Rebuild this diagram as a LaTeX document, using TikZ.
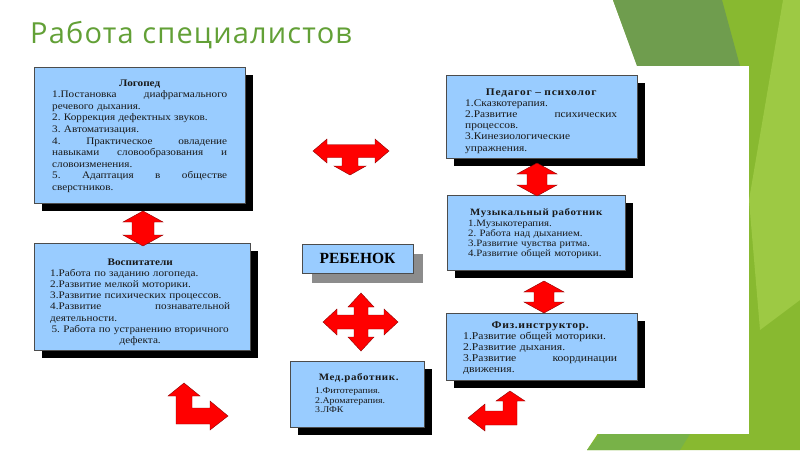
\documentclass[tikz,border=0pt]{standalone}
\usepackage{fontspec}
\setmainfont{Liberation Serif}
\newfontfamily\boxfont[FakeStretch=1.12]{Liberation Serif}
\newfontfamily\titlefont{Open Sans}
\usetikzlibrary{shadows}
\newcommand{\jline}[1]{\makebox[\linewidth][s]{\spaceskip=0pt\xspaceskip=0pt\relax #1}\par}
\definecolor{boxblue}{RGB}{153,204,255}
\definecolor{ttlgreen}{RGB}{98,160,54}
\definecolor{gdark}{RGB}{111,157,78}
\definecolor{gmid}{RGB}{136,185,48}
\definecolor{glight}{RGB}{157,201,68}
\definecolor{gbot}{RGB}{120,178,72}
\definecolor{arrowred}{RGB}{255,0,0}
\begin{document}
\begin{tikzpicture}[x=1pt,y=-1pt,
  box/.style={draw=black!70, line width=0.5pt, fill=boxblue, inner sep=0pt,
    drop shadow={shadow xshift=8pt, shadow yshift=-8pt, fill=black, opacity=1}},
  kidbox/.style={draw=black!70, line width=0.5pt, fill=boxblue, inner sep=0pt,
    drop shadow={shadow xshift=10pt, shadow yshift=-10pt, fill=black!45, opacity=1}},
  txt/.style={inner sep=0pt, anchor=base west, text=black!90, align=left},
  redarr/.style={fill=arrowred, draw=red!55!black, line width=0.4pt, line join=miter}]
\useasboundingbox (0,0) rectangle (800,450);
% background
\fill[white] (0,0) rectangle (800,450);
\fill[gmid] (613,0) -- (800,0) -- (800,450) -- (587,450) -- (620,400) -- (650,100) -- cycle;
\fill[gdark] (613,0) -- (722,0) -- (740,66) -- (637,66) -- cycle;
\fill[glight] (783,0) -- (800,0) -- (800,300) -- (760,330) -- (749,200) -- cycle;
\fill[gbot] (587,450) -- (600,434) -- (690,434) -- (680,450) -- cycle;
\fill[white] (0,66) rectangle (749,434);
% title
\node[anchor=base west, inner sep=0pt, text=ttlgreen, font=\titlefont\addfontfeatures{LetterSpace=4}\fontsize{29}{34}\selectfont] (title) at (30,43) {Работа специалистов};
% boxes
\node[box, minimum width=211pt, minimum height=136pt] (log) at (139.5,135) {};
\node[box, minimum width=191pt, minimum height=83pt] (ped) at (541.5,116.5) {};
\node[box, minimum width=178pt, minimum height=75pt] (mus) at (536,232.5) {};
\node[box, minimum width=216pt, minimum height=107pt] (vos) at (142,296.5) {};
\node[box, minimum width=191pt, minimum height=67pt] (fiz) at (541.5,346.5) {};
\node[box, minimum width=134pt, minimum height=66pt] (med) at (357,394) {};
\node[kidbox, minimum width=111pt, minimum height=29pt, font=\bfseries\fontsize{15.5}{18}\selectfont] (kid) at (357.5,258.5) {РЕБЕНОК};
% texts
\node[txt, text width=175pt, font=\boxfont\frenchspacing\fontsize{10}{11.6}\selectfont] (logT) at (52,86) {%
{\centering\bfseries Логопед\par}
\jline{1.Постановка диафрагмального}
речевого дыхания.\par
2. Коррекция дефектных звуков.\par
3. Автоматизация.\par
\jline{4. Практическое овладение}
\jline{навыками словообразования и}
словоизменения.\par
\jline{5. Адаптация в обществе}
сверстников.\par};
\node[txt, text width=152pt, font=\boxfont\frenchspacing\fontsize{10.2}{11.2}\selectfont] (pedT) at (465,95) {%
{\centering\bfseries\addfontfeatures{LetterSpace=8}Педагог – психолог\par}
1.Сказкотерапия.\par
\jline{2.Развитие психических}
процессов.\par
3.Кинезиологические\par
упражнения.\par};
\node[txt, text width=136pt, font=\boxfont\frenchspacing\fontsize{9.7}{10}\selectfont] (musT) at (468,215) {%
{\centering\bfseries\addfontfeatures{LetterSpace=6}Музыкальный работник\par}
\vspace{1.5pt}
1.Музыкотерапия.\par
2. Работа над дыханием.\par
3.Развитие чувства ритма.\par
4.Развитие общей моторики.\par};
\node[txt, text width=180pt, font=\boxfont\frenchspacing\fontsize{10}{11.2}\selectfont] (vosT) at (50,265) {%
{\centering\bfseries Воспитатели\par}
1.Работа по заданию логопеда.\par
2.Развитие мелкой моторики.\par
3.Развитие психических процессов.\par
\jline{4.Развитие познавательной}
деятельности.\par
{\centering 5. Работа по устранению вторичного\par
дефекта.\par}};
\node[txt, text width=154pt, font=\boxfont\frenchspacing\fontsize{10.4}{11}\selectfont] (fizT) at (463,328) {%
{\centering\bfseries\addfontfeatures{LetterSpace=6}Физ.инструктор.\par}
1.Развитие общей моторики.\par
2.Развитие дыхания.\par
\jline{3.Развитие координации}
движения.\par};
\node[txt, text width=87pt, font=\boxfont\frenchspacing\fontsize{8.8}{9.6}\selectfont] (medT) at (315,380) {%
{\centering\bfseries\addfontfeatures{LetterSpace=6}\fontsize{9.8}{10}\selectfont Мед.работник.\par}
\vspace{4pt}
1.Фитотерапия.\par
2.Ароматерапия.\par
3.ЛФК\par};
% arrows
\draw[redarr] (143,211) -- (163,222) -- (154,222) -- (154,235) -- (163,235) -- (143,246) -- (123,235) -- (132,235) -- (132,222) -- (123,222) -- cycle;
\draw[redarr] (537,163) -- (557,174) -- (547,174) -- (547,185) -- (557,185) -- (537,196) -- (517,185) -- (527,185) -- (527,174) -- (517,174) -- cycle;
\draw[redarr] (544,281) -- (564,292) -- (554,292) -- (554,302) -- (564,302) -- (544,313) -- (524,302) -- (534,302) -- (534,292) -- (524,292) -- cycle;
\draw[redarr] (313,151) -- (327,139) -- (327,144.5) -- (375,144.5) -- (375,139) -- (389,151) -- (375,163) -- (375,157.5) -- (358,157.5) -- (358,166) -- (366,166) -- (350,175) -- (334,166) -- (342,166) -- (342,157.5) -- (327,157.5) -- (327,163) -- cycle;
\draw[redarr] (361,293) -- (374,307) -- (368,307) -- (368,315) -- (384,315) -- (384,309) -- (398,322) -- (384,335) -- (384,329) -- (368,329) -- (368,337) -- (374,337) -- (361,351) -- (348,337) -- (354,337) -- (354,329) -- (337,329) -- (337,335) -- (323,322) -- (337,309) -- (337,315) -- (354,315) -- (354,307) -- (348,307) -- cycle;
\draw[redarr] (184,383) -- (200,396) -- (192,396) -- (192,408) -- (210,408) -- (210,401) -- (228,416) -- (210,430) -- (210,424) -- (176,424) -- (176,396) -- (168,396) -- cycle;
\draw[redarr] (510,391) -- (525,401) -- (517,401) -- (517,425) -- (485,425) -- (485,431) -- (468,418) -- (485,404) -- (485,411) -- (503,411) -- (503,401) -- (496,401) -- cycle;
\end{tikzpicture}
\end{document}
